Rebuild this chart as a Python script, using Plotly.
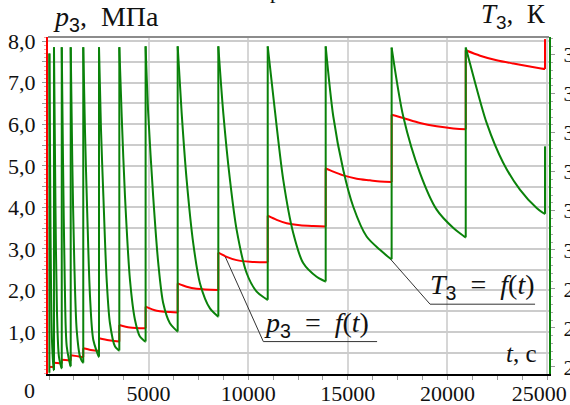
import plotly.graph_objects as go

# ---- data ----
# p3 = f(t), MPa (red)
p_t = [20, 240, 250, 250, 630, 640, 640, 1080, 1090, 1090, 1400, 1710, 1720, 1720, 2100, 2500,
       2510, 2510, 3000, 3520, 3530, 3530, 4060, 4840, 4850, 4850, 5410, 6450,
       6460, 6460, 6910, 7410, 8490, 8500, 8500, 8920, 9420, 10090, 10970,
       10980, 10980, 11430, 11930, 12600, 13270, 13880,
       13890, 13890, 14270, 14770, 15450, 16110, 16620, 17190,
       17200, 17200, 17790, 18620, 19460, 20300, 20910,
       20920, 20920, 21640, 22470, 23310, 24140, 24890, 24900, 24900]
p_val = [0.16, 0.16, 0.16, 0.26, 0.24, 0.24, 0.33, 0.31, 0.31, 0.44, 0.42, 0.40, 0.40, 0.61, 0.57, 0.55,
         0.55, 0.85, 0.80, 0.77, 0.77, 1.17, 1.11, 1.09, 1.09, 1.61, 1.51, 1.47,
         1.47, 2.17, 2.09, 2.04, 2.01, 2.01, 2.91, 2.81, 2.73, 2.69, 2.68,
         2.68, 3.80, 3.70, 3.62, 3.57, 3.55, 3.54,
         3.54, 4.94, 4.86, 4.77, 4.69, 4.65, 4.62, 4.61,
         4.61, 6.23, 6.15, 6.03, 5.95, 5.90, 5.88,
         5.88, 7.78, 7.65, 7.54, 7.46, 7.39, 7.33, 7.33, 8.05]

# T3 = f(t), K (green)
T_t = [0, 20, 20, 75, 150, 245,
       250, 250, 325, 400, 500, 635,
       640, 640, 705, 790, 890, 1085,
       1090, 1090, 1170, 1270, 1390, 1560, 1715,
       1720, 1720, 1805, 1920, 2060, 2225, 2505,
       2510, 2510, 2610, 2730, 2895, 3060, 3310, 3525,
       3530, 3530, 3650, 3815, 4065, 4315, 4565, 4845,
       4850, 4850, 4980, 5230, 5485, 5735, 6070, 6455,
       6460, 6460, 6660, 6910, 7240, 7580, 8080, 8495,
       8500, 8500, 8750, 9085, 9420, 9925, 10425, 10975,
       10980, 10980, 11260, 11760, 12260, 12760, 13435, 13885,
       13890, 13890, 14270, 14770, 15270, 15945, 16615, 17195,
       17200, 17200, 17790, 18630, 19460, 20300, 20915,
       20920, 20920, 21130, 21970, 22800, 23640, 24480, 24895,
       24900, 24900]
T_val = [268.5, 268.5, 350.3, 305.6, 276.8, 269.2,
         269.2, 351.9, 310.9, 284.3, 272.6, 269.7,
         269.7, 351.9, 322.3, 292.3, 275.3, 270.2,
         270.2, 351.9, 322.3, 296.6, 279.5, 272.6, 271.1,
         271.1, 351.9, 330.8, 309.4, 288.0, 276.9, 272.6,
         272.6, 351.9, 330.8, 313.7, 292.3, 281.2, 275.3, 274.2,
         274.2, 351.9, 334.2, 313.7, 292.3, 282.1, 277.8, 276.5,
         276.5, 352.1, 335.0, 313.7, 296.6, 286.3, 281.2, 279.1,
         279.1, 352.1, 335.0, 317.9, 301.7, 291.4, 285.0, 282.9,
         282.9, 352.1, 335.0, 317.9, 305.1, 294.0, 289.3, 287.2,
         287.2, 352.1, 339.3, 317.9, 304.3, 296.6, 293.1, 291.9,
         291.9, 352.1, 334.2, 320.5, 311.1, 303.4, 300.0, 297.6,
         297.6, 351.8, 334.0, 319.6, 310.3, 305.6, 303.2,
         303.2, 351.8, 347.8, 332.5, 322.3, 315.4, 310.7, 309.2,
         309.2, 326.5]

x_ticks = [5000, 10000, 15000, 20000, 25000]
x_labels = ["5000", "10000", "15000", "20000", "25000\u2002\u2009"]
p_ticks = [0.5, 1.0, 1.5, 2.0, 2.5, 3.0, 3.5, 4.0, 4.5, 5.0, 5.5, 6.0, 6.5, 7.0, 7.5, 8.0]
p_labels = ["", "1,0", "", "2,0", "", "3,0", "", "4,0", "", "5,0", "", "6,0", "", "7,0", "", "8,0"]
T_ticks = [270, 280, 290, 300, 310, 320, 330, 340, 350]
T_labels = [str(v) for v in T_ticks]

SERIF = "'Liberation Serif', 'Times New Roman', serif"
TXT = "#111111"
RED = "#ff0000"
GREEN = "#0a820a"


def split_jumps(ts, vs):
    """Separate the vertical jumps (equal consecutive t) from the smooth decays."""
    dx, dy, jx, jy = [], [], [], []
    cur_x, cur_y = [ts[0]], [vs[0]]
    for i in range(1, len(ts)):
        if ts[i] == ts[i - 1]:
            jx += [ts[i - 1], ts[i], None]
            jy += [vs[i - 1], vs[i], None]
            if len(cur_x) > 1:
                dx += cur_x + [None]
                dy += cur_y + [None]
            cur_x, cur_y = [ts[i]], [vs[i]]
        else:
            cur_x.append(ts[i])
            cur_y.append(vs[i])
    if len(cur_x) > 1:
        dx += cur_x
        dy += cur_y
    return dx, dy, jx, jy


fig = go.Figure()
for ts, vs, col, ax in [(p_t, p_val, RED, "y"), (T_t, T_val, GREEN, "y2")]:
    dx, dy, jx, jy = split_jumps(ts, vs)
    fig.add_trace(go.Scatter(x=dx, y=dy, mode="lines", yaxis=ax, connectgaps=False,
                             line=dict(color=col, width=2, shape="spline", smoothing=0.8),
                             hoverinfo="skip"))
    fig.add_trace(go.Scatter(x=jx, y=jy, mode="lines", yaxis=ax, connectgaps=False,
                             line=dict(color=col, width=2), hoverinfo="skip"))

fig.update_layout(
    width=570, height=405,
    margin=dict(l=48, r=21, t=37, b=31, pad=0, autoexpand=False),
    paper_bgcolor="white", plot_bgcolor="white",
    showlegend=False,
    xaxis=dict(range=[-50, 25100], tickmode="array", tickvals=x_ticks, ticktext=x_labels,
               automargin=False, ticklabeloverflow="allow",
               showgrid=True, gridcolor="#d6d6d6", gridwidth=1.5, zeroline=False,
               showline=True, linecolor="#000000", linewidth=2,
               ticks="outside", ticklen=4, tickcolor="#999999", tickwidth=1,
               ticklabelstandoff=-5,
               tickfont=dict(family=SERIF, size=22, color=TXT),
               minor=dict(tickmode="linear", tick0=0, dtick=1250, ticks="outside", ticklen=4,
                          tickcolor="#999999", showgrid=False)),
    yaxis=dict(range=[-0.01, 8.1], tickmode="array", tickvals=p_ticks, ticktext=p_labels,
               automargin=False, ticklabeloverflow="allow",
               showgrid=True, gridcolor="#cccccc", gridwidth=1.5, zeroline=False,
               showline=True, linecolor=RED, linewidth=2,
               ticks="outside", ticklen=4, tickcolor="#999999",
               ticklabelstandoff=2,
               tickfont=dict(family=SERIF, size=22, color=TXT),
               minor=dict(tickmode="linear", tick0=0, dtick=0.1, ticks="outside", ticklen=2,
                          tickcolor="#f0a0a0", showgrid=False)),
    yaxis2=dict(range=[268.2, 354.5], overlaying="y", side="right",
                automargin=False, ticklabeloverflow="allow",
                tickmode="array", tickvals=T_ticks, ticktext=T_labels,
                showgrid=False, zeroline=False,
                showline=True, linecolor=GREEN, linewidth=2,
                ticks="outside", ticklen=4, tickcolor="#999999",
                ticklabelstandoff=4,
                tickfont=dict(family=SERIF, size=22, color=TXT),
                minor=dict(tickmode="linear", tick0=270, dtick=2, ticks="outside", ticklen=2,
                           tickcolor="#aaaaaa", showgrid=False)),
)

# top border
fig.add_shape(type="line", xref="paper", yref="paper", x0=0, x1=1, y0=1, y1=1,
              line=dict(color="#8c8c8c", width=2))

# leader lines for the labels
fig.add_shape(type="path", xref="x", yref="y", path="M 8850,2.81 L 10760,0.77 L 16470,0.77",
              line=dict(color="#333333", width=1))
fig.add_shape(type="path", xref="x", yref="y", path="M 17150,2.75 L 19130,1.67 L 24400,1.67",
              line=dict(color="#333333", width=1))

sub3 = "<sub><span style='font-family:Liberation Sans'>3</span></sub>"
EQ = "\u2002=\u2002"
ann = [
    dict(text="<i>p</i>" + sub3 + ",\u2002МПа", xref="paper", yref="paper", x=0.006, y=1.055,
         xanchor="left", yanchor="middle", font=dict(family=SERIF, size=28, color=TXT)),
    dict(text="<i>T</i>" + sub3 + ",\u2002К", xref="paper", yref="paper", x=0.998, y=1.062,
         xanchor="right", yanchor="middle", font=dict(family=SERIF, size=27, color=TXT)),
    dict(text="<i>p</i>" + sub3 + EQ + "<i>f</i>(<i>t</i>)", xref="x", yref="y", x=13450, y=1.18,
         xanchor="center", yanchor="middle", font=dict(family=SERIF, size=28, color=TXT)),
    dict(text="<i>T</i>" + sub3 + EQ + "<i>f</i>(<i>t</i>)", xref="x", yref="y", x=21750, y=2.09,
         xanchor="center", yanchor="middle", font=dict(family=SERIF, size=28, color=TXT)),
    dict(text="<i>t</i>, с", xref="x", yref="y", x=23700, y=0.49,
         xanchor="center", yanchor="middle", font=dict(family=SERIF, size=25, color=TXT)),
    dict(text="0", xref="paper", yref="paper", x=-0.036, y=-0.05,
         xanchor="center", yanchor="middle", font=dict(family=SERIF, size=22, color=TXT)),
    dict(text="р", xref="paper", yref="paper", x=0.455, y=1.095,
         xanchor="center", yanchor="bottom", font=dict(family=SERIF, size=22, color=TXT)),
]
for a in ann:
    a["showarrow"] = False
    fig.add_annotation(**a)

fig.write_html("out.html")
